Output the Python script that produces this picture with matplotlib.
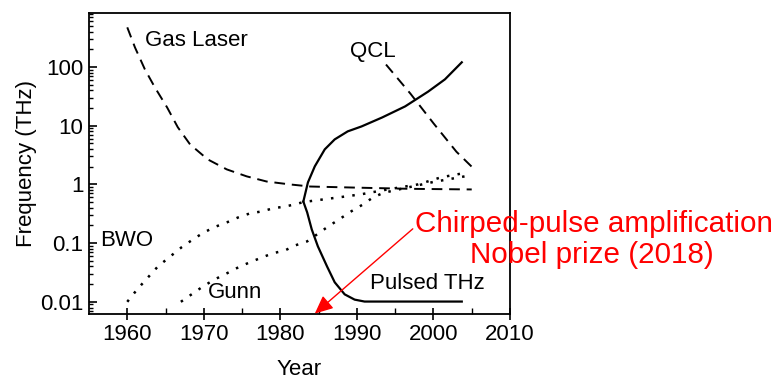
import matplotlib
matplotlib.use("Agg")
import matplotlib.pyplot as plt
from matplotlib.ticker import LogLocator, FixedLocator, NullFormatter

plt.rcParams['font.family'] = ['Liberation Sans', 'DejaVu Sans']

# Data
gas_years = [1960.0, 1961.0, 1962.3, 1963.6, 1965.2, 1966.6, 1968.2, 1970.5, 1973.0,
             1975.6, 1978.2, 1981.2, 1983.9, 1990, 1997, 2005]
gas_vals = [473, 216, 91, 45, 20.5, 9.4, 4.8, 2.67, 1.80, 1.37, 1.12, 1.0, 0.92,
            0.88, 0.84, 0.82]

qcl_years = [1993.8, 1997, 2000, 2003, 2005]
qcl_vals = [110, 35, 11, 3.6, 2.0]

thz_up_years = [1983.0, 1983.6, 1984.5, 1985.8, 1987.1, 1988.8, 1990.6, 1993.3,
                1996.3, 1999.3, 2001.5, 2003.7]
thz_up_vals = [0.51, 1.08, 2.03, 3.95, 5.84, 8.0, 9.7, 13.8, 21.3, 38, 61.5, 120]
thz_dn_years = [1983.0, 1983.5, 1984.1, 1984.9, 1986.1, 1987.1, 1988.4, 1989.7,
                1991.0, 2003.7]
thz_dn_vals = [0.51, 0.334, 0.171, 0.088, 0.040, 0.0215, 0.0134, 0.0109, 0.0101, 0.0101]

bwo_years = [1960.0, 1961.3, 1962.7, 1964.0, 1965.6, 1967.1, 1968.6, 1970.0, 1971.6,
             1973.0, 1974.5, 1976.0, 1977.6, 1979.0, 1980.6, 1981.9, 1983.0, 1988.4,
             1990.6, 1994, 1998, 2001, 2003.8]
bwo_vals = [0.01, 0.0163, 0.026, 0.040, 0.059, 0.085, 0.116, 0.152, 0.192, 0.225,
            0.274, 0.32, 0.347, 0.39, 0.42, 0.456, 0.5, 0.62, 0.68, 0.82, 1.0, 1.32, 1.54]

gunn_years = [1967.0, 1968.4, 1969.9, 1971.4, 1973.0, 1974.5, 1976.0, 1977.6, 1979.0,
              1980.6, 1981.9, 1983.5, 1984.8, 1986.2, 1987.8, 1989.3, 1990.8, 1992.1,
              1993.5, 1996, 2000, 2004.5]
gunn_vals = [0.01, 0.0134, 0.0183, 0.024, 0.0305, 0.0386, 0.047, 0.057, 0.067, 0.075,
             0.091, 0.107, 0.141, 0.19, 0.26, 0.35, 0.456, 0.6, 0.72, 0.85, 1.1, 1.4]

xticks = [1960, 1970, 1980, 1990, 2000, 2010]
yticks = [0.01, 0.1, 1, 10, 100]
ytick_labels = ['0.01', '0.1', '1', '10', '100']

fig = plt.figure(figsize=(7.76, 3.83), dpi=100)
ax = fig.add_axes([89/776, 1 - 314/383, (510 - 89)/776, (314 - 13)/383])

ax.plot(gas_years, gas_vals, color='black', lw=1.4, linestyle=(0, (5.5, 3.5)))
ax.plot(qcl_years, qcl_vals, color='black', lw=1.4, linestyle=(0, (5.5, 3.5)))
ax.plot(thz_up_years, thz_up_vals, color='black', lw=1.6)
ax.plot(thz_dn_years, thz_dn_vals, color='black', lw=1.6)
ax.plot(bwo_years, bwo_vals, color='black', lw=1.8, linestyle=(0, (1, 3.3)))
ax.plot(gunn_years, gunn_vals, color='black', lw=1.8, linestyle=(0, (1, 3.3)))

ax.set_yscale('log')
ax.set_xlim(1955, 2010)
ax.set_ylim(0.0062, 830)
ax.xaxis.set_major_locator(FixedLocator(xticks))
ax.xaxis.set_minor_locator(FixedLocator([1965, 1975, 1985, 1995, 2005]))
ax.yaxis.set_major_locator(FixedLocator(yticks))
ax.set_yticklabels(ytick_labels)
ax.yaxis.set_minor_locator(LogLocator(base=10, subs=range(2, 10), numticks=20))
ax.yaxis.set_minor_formatter(NullFormatter())

ax.tick_params(axis='x', which='major', direction='inout', length=8, width=1.2, labelsize=16, pad=3)
ax.tick_params(axis='x', which='minor', direction='in', length=4, width=1.0)
ax.tick_params(axis='y', which='major', direction='in', length=6, width=1.2, labelsize=16, pad=4)
ax.tick_params(axis='y', which='minor', direction='in', length=3, width=1.0)
for s in ax.spines.values():
    s.set_linewidth(1.3)

ax.set_xlabel('Year', fontsize=16, labelpad=10)
ax.set_ylabel('Frequency (THz)', fontsize=16, labelpad=2)

lab = dict(fontsize=16, color='black', ha='left', va='baseline')
ax.text(1962.3, 224, 'Gas Laser', **lab)
ax.text(1989.1, 146, 'QCL', **lab)
ax.text(1956.4, 0.088, 'BWO', **lab)
ax.text(1970.5, 0.0114, 'Gunn', **lab)
ax.text(1991.7, 0.0163, 'Pulsed THz', **lab)

ax.annotate('', xy=(1984.5, 0.0063), xytext=(1997.3, 0.175),
            arrowprops=dict(arrowstyle='-|>,head_length=1.1,head_width=0.5',
                            color='red', lw=1.0, shrinkA=0, shrinkB=0),
            annotation_clip=False)

fig.text(594/776, 1 - 232/383, 'Chirped-pulse amplification', color='red',
         fontsize=21.3, ha='center', va='baseline')
fig.text(592/776, 1 - 263/383, 'Nobel prize (2018)', color='red',
         fontsize=21.3, ha='center', va='baseline')

fig.savefig('out.png', dpi=100)
